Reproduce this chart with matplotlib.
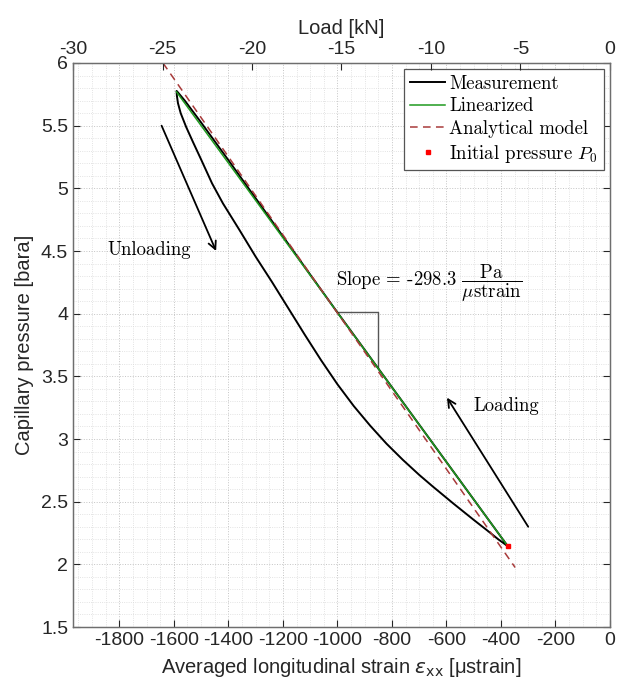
import matplotlib
matplotlib.use("Agg")
import matplotlib.pyplot as plt
from matplotlib.font_manager import FontProperties
from matplotlib.ticker import MultipleLocator

plt.rcParams["font.family"] = ["Liberation Sans", "DejaVu Sans"]
plt.rcParams["axes.unicode_minus"] = False

# measured loop: loading branch (P0 -> peak), unloading branch (peak -> P0)
load_strain = [-375, -500, -700, -900, -1000, -1100, -1200, -1300, -1400, -1500, -1560, -1585, -1590]
load_pressure = [2.145, 2.518, 3.115, 3.712, 4.010, 4.312, 4.617, 4.921, 5.225, 5.525, 5.700, 5.765, 5.777]
unload_strain = [-1590, -1589, -1585, -1575, -1555, -1530, -1500, -1460, -1420, -1360, -1300,
                 -1240, -1180, -1120, -1060, -1000, -940, -880, -820, -760, -700, -650, -575,
                 -500, -450, -410, -375]
unload_pressure = [5.777, 5.74, 5.68, 5.60, 5.49, 5.37, 5.23, 5.04, 4.88, 4.67, 4.455,
                   4.253, 4.043, 3.833, 3.629, 3.437, 3.263, 3.107, 2.963, 2.834, 2.714, 2.621, 2.486,
                   2.355, 2.27, 2.20, 2.145]

lin_strain = [-1590, -375]
lin_pressure = [5.769, 2.145]
ana_strain = [-1640, -348]
ana_pressure = [6.0, 1.975]
p0_strain = [-375]
p0_pressure = [2.145]

tri_strain = [-1000, -850, -850]
tri_pressure = [4.010, 4.010, 3.563]

strain_lim = (-1970, 0)
load_lim = (-30, 0)
strain_ticks = [-1800, -1600, -1400, -1200, -1000, -800, -600, -400, -200, 0]
load_ticks = [-30, -25, -20, -15, -10, -5, 0]
p_ticks = [1.5, 2, 2.5, 3, 3.5, 4, 4.5, 5, 5.5, 6]

serif = FontProperties(family="cmr10", size=13.5, math_fontfamily="cm")

fig = plt.figure(figsize=(6.31, 6.87), dpi=100)
ax = fig.add_axes([0.1157, 0.0873, 0.851, 0.821])

meas_x = load_strain + unload_strain[1:]
meas_y = load_pressure + unload_pressure[1:]
ax.plot(meas_x, meas_y, color="k", lw=1.4, label=r"Measurement", zorder=3)
ax.plot(lin_strain, lin_pressure, color="#1f9a1f", lw=1.1, label="Linearized", zorder=4)
ax.plot(ana_strain, ana_pressure, color="#a83a3a", lw=1.1, ls=(0, (5, 3.5)),
        label="Analytical model", zorder=5)
ax.plot(p0_strain, p0_pressure, ls="none", marker="s", ms=3.5, color="red",
        label=r"Initial pressure $P_0$", zorder=6)
ax.plot(tri_strain, tri_pressure, color="#555555", lw=1.0, zorder=2)

ax.text(-1005, 4.245, r"Slope = -298.3 $\dfrac{\mathrm{Pa}}{\mu\mathrm{strain}}$",
        fontproperties=serif, ha="left", va="center")
ax.text(-1842, 4.508, "Unloading", fontproperties=serif, ha="left", va="center")
ax.text(-500, 3.263, "Loading", fontproperties=serif, ha="left", va="center")

arrow = dict(arrowstyle="->", color="k", lw=1.3, mutation_scale=14, shrinkA=0, shrinkB=0)
ax.annotate("", xy=(-1445, 4.5), xytext=(-1645, 5.5), arrowprops=arrow)
ax.annotate("", xy=(-598, 3.33), xytext=(-300, 2.3), arrowprops=arrow)

ax.set_xlim(*strain_lim)
ax.set_ylim(1.5, 6)
ax.set_xticks(strain_ticks)
ax.set_yticks(p_ticks)
ax.set_yticklabels([f"{t:g}" for t in p_ticks])
ax.xaxis.set_minor_locator(MultipleLocator(50))
ax.yaxis.set_minor_locator(MultipleLocator(0.1))
ax.grid(True, which="major", ls=":", color="#c4c4c4", lw=0.7)
ax.grid(True, which="minor", ls=":", color="#dadada", lw=0.6)
ax.set_axisbelow(True)
ax.tick_params(which="major", direction="in", length=5, top=True, right=True,
               labelsize=14, colors="#262626", width=0.8)
ax.tick_params(which="minor", length=0)
for s in ax.spines.values():
    s.set_color("#6e6e6e")
    s.set_linewidth(0.9)
ax.set_xlabel(r"Averaged longitudinal strain $\epsilon_{\mathrm{xx}}$ [μstrain]", fontsize=14.5,
              color="#262626", labelpad=5)
ax.set_ylabel("Capillary pressure [bara]", fontsize=14.5, color="#262626", labelpad=5)

top = ax.twiny()
top.set_xlim(*load_lim)
top.set_xticks(load_ticks)
top.tick_params(direction="in", length=5, labelsize=14, colors="#262626", width=0.8)
top.set_xlabel("Load [kN]", fontsize=14.5, color="#262626", labelpad=5)
for s in top.spines.values():
    s.set_color("#6e6e6e")
    s.set_linewidth(0.9)

leg = ax.legend(loc="upper right", bbox_to_anchor=(0.988, 0.989), prop=serif,
                fancybox=False, framealpha=1, edgecolor="#555555", handlelength=1.9,
                handletextpad=0.2, borderpad=0.3, labelspacing=0.25, borderaxespad=0)
leg.get_frame().set_linewidth(0.9)

fig.savefig("out.png", dpi=100)
